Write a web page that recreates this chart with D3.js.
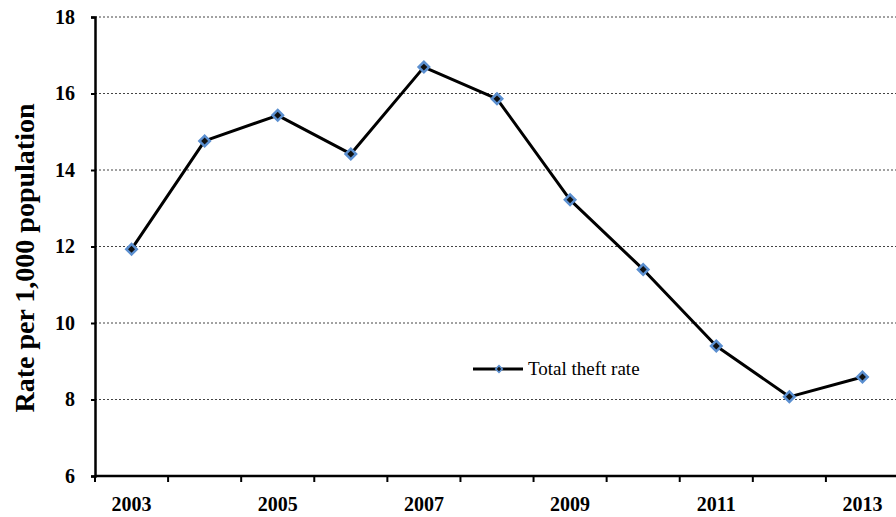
<!DOCTYPE html>
<html><head><meta charset="utf-8">
<script src="https://cdn.jsdelivr.net/npm/d3@7"></script>
<style>body{margin:0;background:#fff}svg{display:block}
svg text{font-family:"Liberation Serif","Times New Roman",serif !important}</style>
</head><body>
<script>
const years = ["2003","2004","2005","2006","2007","2008","2009","2010","2011","2012","2013"];
const theftRate = [11.93, 14.76, 15.43, 14.42, 16.69, 15.86, 13.22, 11.40, 9.40, 8.07, 8.59];
const yTicks = [6, 8, 10, 12, 14, 16, 18];
const xLabels = ["2003","2005","2007","2009","2011","2013"];
const seriesName = "Total theft rate";
const yTitle = "Rate per 1,000 population";

const W = 896, H = 517;
const m = {left: 95, top: 17, right: -3, bottom: 41};
const svg = d3.select("body").append("svg").attr("width", W).attr("height", H);
const x = d3.scaleBand().domain(years).range([m.left, W - m.right]);
const y = d3.scaleLinear().domain([6, 18]).range([H - m.bottom, m.top]);

// gridlines
svg.append("g").selectAll("line").data(yTicks.filter(d => d > 6)).join("line")
  .attr("x1", m.left).attr("x2", W).attr("y1", d => y(d)).attr("y2", d => y(d))
  .attr("stroke", "#444").attr("stroke-width", 1).attr("stroke-dasharray", "2,2");

// y axis
const ya = svg.append("g").attr("transform", `translate(${m.left},0)`)
  .call(d3.axisLeft(y).tickValues(yTicks).tickSize(4).tickPadding(16).tickFormat(d3.format("d")));
ya.select(".domain").attr("stroke", "#000").attr("stroke-width", 2.5);
ya.selectAll(".tick line").attr("stroke", "#000").attr("stroke-width", 2);
ya.selectAll("text").attr("font-weight", "bold").attr("font-size", 20).attr("fill", "#000");

// x axis
const xa = svg.append("g").attr("transform", `translate(0,${y(6)})`)
  .call(d3.axisBottom(x).tickSize(0).tickFormat(d => xLabels.includes(d) ? d : ""));
xa.select(".domain").remove();
xa.append("line").attr("x1", m.left).attr("x2", W).attr("stroke", "#000").attr("stroke-width", 2.5);
xa.selectAll(".tick text").attr("font-weight", "bold").attr("font-size", 20)
  .attr("fill", "#000").attr("dy", "1.6em");
// boundary ticks between categories
xa.append("g").selectAll("line").data(years).join("line")
  .attr("x1", d => x(d)).attr("x2", d => x(d)).attr("y1", 0).attr("y2", 6)
  .attr("stroke", "#000").attr("stroke-width", 2);

// y title
svg.append("text").attr("transform", `translate(34,258) rotate(-90)`)
  .attr("text-anchor", "middle").attr("font-weight", "bold")
  .attr("font-size", 28).text(yTitle);

// line
const cx = d => x(d) + x.bandwidth() / 2;
const line = d3.line().x((d, i) => cx(years[i])).y(d => y(d));
svg.append("path").datum(theftRate).attr("d", line).attr("fill", "none")
  .attr("stroke", "#000").attr("stroke-width", 3).attr("stroke-linejoin", "round");

const marker = d3.symbol().type(d3.symbolSquare).size(55);
svg.append("g").selectAll("path").data(theftRate).join("path")
  .attr("d", marker).attr("transform", (d, i) => `translate(${cx(years[i])},${y(d)}) rotate(45)`)
  .attr("fill", "#111").attr("stroke", "#5b8fd0").attr("stroke-width", 2.5);

// legend
const lg = svg.append("g").attr("transform", "translate(473,369)");
lg.append("line").attr("x1", 0).attr("x2", 50).attr("stroke", "#000").attr("stroke-width", 3);
lg.append("path").attr("d", d3.symbol().type(d3.symbolSquare).size(22)).attr("transform", "translate(26,0) rotate(45)")
  .attr("fill", "#111").attr("stroke", "#5b8fd0").attr("stroke-width", 1.5);
lg.append("text").attr("x", 55).attr("y", 6).attr("font-size", 19).text(seriesName);
</script>
</body></html>
